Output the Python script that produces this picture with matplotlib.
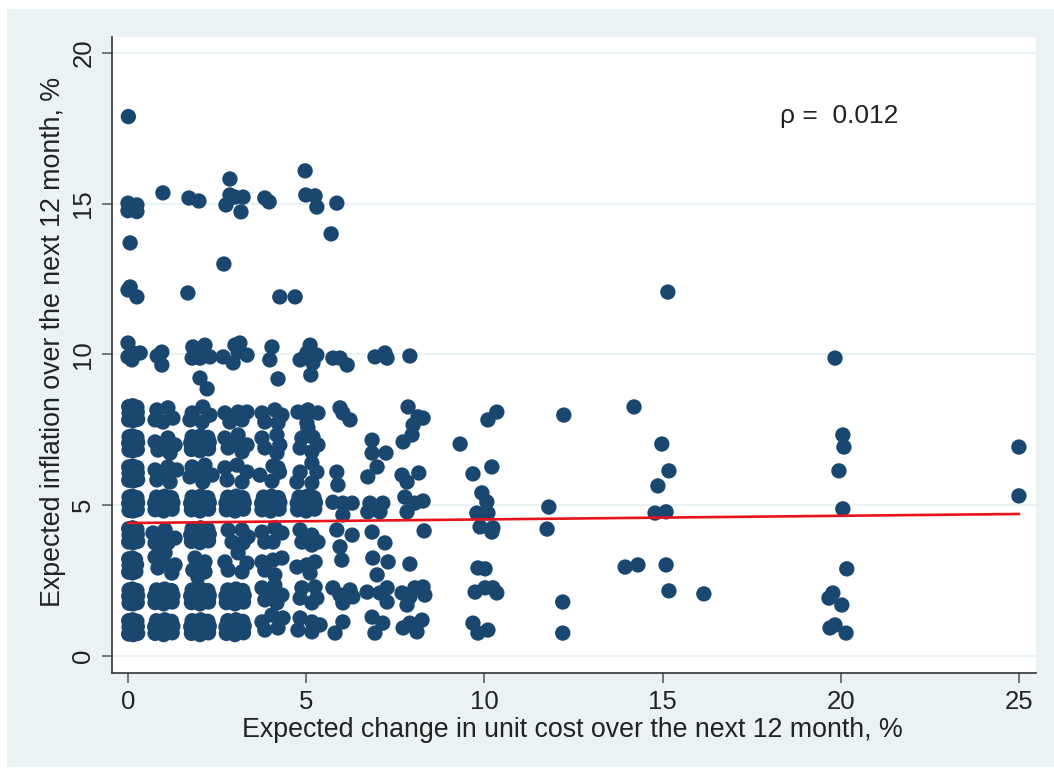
import matplotlib
matplotlib.use("Agg")
import matplotlib.pyplot as plt
from matplotlib.patches import Rectangle

plt.rcParams['font.family'] = ['Liberation Sans', 'DejaVu Sans']

# ---------------- data ----------------
# dense block, column near x=0
col0_x = [0.02,0.15,0.27,0.03,0.14,0.26,0.02,0.13,0.25,
          0.03,0.14,0.26,0.02,0.15,0.27,0.03,0.12,0.25,
          0.02,0.13,0.22,0.03,0.14,0.24,0.02,0.12,0.21,
          0.02,0.15,0.27,0.03,0.14,0.26,0.02,0.13,0.25,
          0.03,0.14,0.26,0.02,0.15,0.27,0.03,0.12,0.25,
          0.02,0.15,0.27,0.03,0.14,0.26,0.02,0.13,0.25,
          0.03,0.14,0.26,0.02,0.15,0.27,0.03,0.12,0.25,
          0.02,0.15,0.27,0.03,0.14,0.26,0.02,0.13,0.25]
col0_y = [0.73,0.71,0.75,0.96,0.94,0.98,1.17,1.20,1.15,
          1.75,1.73,1.77,1.98,1.96,2.00,2.19,2.22,2.17,
          2.78,2.76,2.80,3.01,2.99,3.03,3.22,3.25,3.20,
          3.78,3.76,3.80,4.01,3.99,4.03,4.22,4.25,4.20,
          4.83,4.81,4.85,5.06,5.04,5.08,5.27,5.30,5.25,
          5.83,5.81,5.85,6.06,6.04,6.08,6.27,6.30,6.25,
          6.83,6.81,6.85,7.06,7.04,7.08,7.27,7.30,7.25,
          7.83,7.81,7.85,8.06,8.04,8.08,8.27,8.30,8.25]

# column near x=1
col1_x = [0.76,1.00,1.24,0.75,1.02,1.26,0.80,1.03,1.22,
          0.76,1.00,1.24,0.75,1.02,1.26,0.80,1.03,1.22,
          0.76,1.04,1.32,0.84,1.23,1.00,
          0.70,1.04,1.32,0.76,1.12,1.00,
          0.76,1.00,1.24,0.75,1.02,1.26,0.80,1.03,1.22,
          0.76,1.12,1.37,0.81,1.18,1.00,
          0.76,1.12,1.32,0.84,1.18,1.00,
          0.81,1.12,1.26,0.76,0.98]
col1_y = [0.75,0.71,0.77,0.97,0.95,0.99,1.17,1.20,1.15,
          1.77,1.73,1.79,1.99,1.97,2.01,2.19,2.22,2.17,
          3.28,3.42,3.02,2.92,2.75,3.10,
          4.08,4.18,3.91,3.75,3.75,3.95,
          4.85,4.81,4.87,5.07,5.05,5.09,5.27,5.30,5.25,
          6.17,6.27,6.17,5.84,5.77,6.00,
          7.10,7.23,7.00,6.83,6.73,7.00,
          8.16,8.23,7.89,7.83,7.76]

# column near x=2
col2_x = [1.78,2.02,2.26,1.76,2.03,2.28,1.80,2.04,2.24,
          1.78,2.02,2.26,1.76,2.03,2.28,1.80,2.04,2.24,
          1.88,2.16,1.82,2.16,1.96,2.00,
          1.78,2.02,2.26,1.76,2.03,2.28,1.80,2.04,2.24,
          1.78,2.02,2.26,1.76,2.03,2.28,1.80,2.04,2.24,
          1.80,2.16,2.36,1.74,2.10,2.00,
          1.78,2.02,2.26,1.76,2.03,2.28,1.80,2.04,2.24,
          1.80,2.10,2.30,1.74,2.08]
col2_y = [0.75,0.71,0.77,0.97,0.95,0.99,1.17,1.20,1.15,
          1.77,1.73,1.79,1.99,1.97,2.01,2.19,2.22,2.17,
          3.25,3.12,2.85,2.79,2.62,3.00,
          3.80,3.76,3.82,4.02,4.00,4.04,4.22,4.25,4.20,
          4.85,4.81,4.87,5.07,5.05,5.09,5.27,5.30,5.25,
          6.27,6.33,6.00,5.94,5.77,6.05,
          6.85,6.81,6.87,7.07,7.05,7.09,7.27,7.30,7.25,
          8.06,8.26,7.99,7.83,7.76]

# column near x=3
col3_x = [2.76,3.00,3.24,2.75,3.02,3.26,2.80,3.03,3.22,
          2.76,3.00,3.24,2.75,3.02,3.26,2.80,3.03,3.22,
          2.72,3.09,3.34,2.81,3.20,
          2.81,3.20,3.37,2.92,3.23,
          2.76,3.00,3.24,2.75,3.02,3.26,2.80,3.03,3.22,
          2.72,3.06,3.34,2.78,3.20,
          2.72,3.09,3.34,2.81,3.20,3.00,
          2.72,3.09,3.34,2.86,3.20]
col3_y = [0.75,0.71,0.77,0.97,0.95,0.99,1.17,1.20,1.15,
          1.77,1.73,1.79,1.99,1.97,2.01,2.19,2.22,2.17,
          3.12,3.42,3.08,2.85,2.79,
          4.18,4.18,3.95,3.78,3.75,
          4.85,4.81,4.87,5.07,5.05,5.09,5.27,5.30,5.25,
          6.24,6.33,6.10,5.84,5.77,
          7.23,7.33,7.00,6.90,6.77,7.06,
          8.06,8.09,8.09,7.76,7.83]

# column near x=4
col4_x = [3.76,4.04,4.35,3.84,4.21,
          3.76,4.12,4.32,3.84,4.18,4.00,
          3.76,4.07,4.32,3.84,4.12,
          3.76,4.12,4.32,3.84,4.07,
          3.76,4.00,4.24,3.75,4.02,4.26,3.80,4.03,4.22,
          3.70,4.07,4.21,4.04,4.25,
          3.76,4.18,4.26,3.84,4.18,
          3.76,4.12,4.32,3.84,4.21]
col4_y = [1.13,1.36,1.26,0.86,0.93,
          2.26,2.35,2.02,1.86,1.76,2.05,
          3.12,3.18,3.25,2.85,2.69,
          4.11,4.25,4.08,3.78,3.78,
          4.85,4.81,4.87,5.07,5.05,5.09,5.27,5.30,5.25,
          6.00,6.30,6.24,5.80,6.10,
          7.23,7.33,7.00,6.90,6.73,
          8.06,8.16,7.99,7.76,7.73]

# column near x=5
col5_x = [4.83,5.16,5.39,4.77,5.16,
          4.88,5.25,5.30,4.83,5.16,
          4.74,5.02,5.25,5.11,
          4.83,5.16,5.33,4.88,5.16,
          4.76,5.00,5.24,4.75,5.02,5.26,4.80,5.03,5.22,
          4.83,5.16,5.30,4.74,5.16,
          4.88,5.19,5.33,4.83,5.16,
          4.77,5.05,5.33,5.02,5.05]
col5_y = [1.26,1.13,1.03,0.86,0.80,
          2.26,2.29,1.92,1.92,1.76,
          2.95,3.02,3.12,2.75,
          4.18,4.01,3.78,3.78,3.68,
          4.85,4.81,4.87,5.07,5.05,5.09,5.27,5.30,5.25,
          6.10,6.40,6.10,5.77,5.74,
          7.23,7.26,7.00,6.90,6.77,
          8.09,8.16,8.06,7.73,7.56]

# high inflation answers (y >= 8.8)
high_x = [0.01, 0.00,0.25,0.00,0.25, 0.98, 1.71,1.99, 2.86,
          2.86,3.23,2.75,3.00, 3.17, 3.84,3.96, 4.97,
          4.99,5.25,5.30, 5.86, 5.70, 0.06, 2.69,
          0.00,0.25,0.06, 1.68, 4.26,4.69,
          0.00,0.14,0.34,0.00,0.11, 0.95,0.82,0.95,
          1.82,2.16,1.80,2.02,2.30,1.88, 2.02,2.22,
          2.67,3.00,3.14,3.34,2.95,3.09, 4.04,3.98,4.21,
          5.11,4.83,5.30,5.02,5.19,5.13, 5.75,5.95,6.15,
          6.93,7.21,7.27, 7.91]
high_y = [17.89, 15.02,14.96,14.77,14.74, 15.36, 15.19,15.09, 15.82,
          15.29,15.22,14.96,15.22, 14.73, 15.19,15.06, 16.09,
          15.29,15.26,14.89, 15.02, 14.00, 13.70, 13.00,
          12.14,11.91,12.24, 12.04, 11.91,11.91,
          10.38,10.05,10.05,9.92,9.82, 10.08,9.95,9.65,
          10.25,10.31,9.88,9.88,9.92,10.05, 9.22,8.86,
          9.92,10.31,10.38,9.98,9.72,10.08, 10.25,9.82,9.19,
          10.31,9.82,9.98,10.05,9.72,9.32, 9.88,9.88,9.65,
          9.92,10.05,9.88, 9.95]

# middle columns x = 6 ... 12
mid_x = [5.95,6.03,6.23, 7.86,8.14,8.28,8.00,7.97,7.72, 10.10,10.35, 12.23, 9.32,
         6.85,6.85,7.24, 6.99,6.73, 5.86,5.89, 7.69,7.83,8.16, 9.68,10.21,
         5.75,6.03,6.29,6.03, 6.79,7.15,6.73,7.07, 7.77,8.05,8.28,7.83,
         9.93,10.07,9.79,10.10, 11.81,
         5.86,6.29,5.95, 6.85,7.21, 8.31, 9.88,10.21,10.24, 11.76,
         6.00,6.87,7.30,6.99,7.91,9.82,10.02,
         5.75,5.95,6.23,6.31,6.03, 6.71,7.07,7.27,7.27,
         7.69,7.91,8.05,8.28,8.33,7.83, 9.74,10.02,10.35,10.24, 12.20,
         5.81,6.03,6.85,7.15,6.93, 7.72,7.91,8.11,8.25, 9.68,9.82,10.10, 12.20]
mid_y = [8.23,8.06,7.83, 8.26,7.93,7.89,7.66,7.33,7.10, 7.83,8.09, 7.99, 7.03,
         7.16,6.73,6.73, 6.27,5.94, 6.10,5.67, 6.00,5.77,6.07, 6.04,6.27,
         5.10,5.07,5.07,4.68, 5.07,5.07,4.78,4.78, 5.27,5.07,5.14,4.78,
         5.41,5.11,4.74,4.74, 4.94,
         4.18,4.01,3.62, 4.11,3.75, 4.15, 4.28,4.11,4.25, 4.21,
         3.18,3.25,3.12,2.69,3.05,2.92,2.89,
         2.26,2.02,2.19,1.96,1.76, 2.12,2.09,2.26,1.79,
         2.09,1.96,2.26,2.29,2.02,1.69, 2.12,2.26,2.09,2.26, 1.79,
         0.76,1.13,1.29,1.09,0.76, 0.93,1.09,0.80,1.19, 1.09,0.76,0.86, 0.76]

# right-hand tail x >= 13
tail_x = [15.15, 19.84, 14.20, 14.98, 15.18, 14.87, 14.79, 15.10, 13.95, 14.31,
          15.10, 15.18, 16.16, 20.06, 20.09, 19.95, 20.06, 20.17, 19.78, 19.67,
          20.03, 19.84, 19.70, 20.15, 25.00, 25.00]
tail_y = [12.07, 9.88, 8.26, 7.03, 6.14, 5.64, 4.74, 4.78, 2.95, 3.02,
          3.02, 2.16, 2.06, 7.33, 6.93, 6.14, 4.88, 2.89, 2.09, 1.92,
          1.69, 1.03, 0.93, 0.76, 6.93, 5.31]

# linear fit line end points
fit_x = [0, 25]
fit_y = [4.41, 4.71]

rho_text = "\u03c1 =  0.012"
x_ticks = [0, 5, 10, 15, 20, 25]
y_ticks = [0, 5, 10, 15, 20]
x_title = "Expected change in unit cost over the next 12 month, %"
y_title = "Expected inflation over the next 12 month, %"

# ---------------- drawing ----------------
W, H = 1054, 769
fig = plt.figure(figsize=(W / 100, H / 100), dpi=100, facecolor='white')
bg = '#EAF2F3'
bg_rect = Rectangle((7 / W, 2 / H), (W - 7) / W, (767 - 9) / H,
                    transform=fig.transFigure, facecolor=bg,
                    edgecolor='none', zorder=-10)
fig.add_artist(bg_rect)

ax = fig.add_axes([112 / W, 1 - 673 / H, (1036 - 112) / W, (673 - 37) / H])
ax.set_zorder(1)
ax.set_facecolor('white')
ax.set_xlim(-0.449, 25.48)
ax.set_ylim(-0.564, 20.53)

for yv in y_ticks:
    ax.axhline(yv, color=bg, lw=1.6, zorder=1)

xs = col0_x + col1_x + col2_x + col3_x + col4_x + col5_x + high_x + mid_x + tail_x
ys = col0_y + col1_y + col2_y + col3_y + col4_y + col5_y + high_y + mid_y + tail_y
ax.scatter(xs, ys, s=122, color='#1A476F', edgecolors='none', zorder=3)

ax.plot(fit_x, fit_y, color='#E8131B', lw=1.9, zorder=4)

ax.text(18.3, 17.9, rho_text, fontsize=19, color='#222222', va='center', ha='left')

for s in ['top', 'right']:
    ax.spines[s].set_visible(False)
for s in ['left', 'bottom']:
    ax.spines[s].set_color('#333333')
    ax.spines[s].set_linewidth(1.2)

ax.set_xticks(x_ticks)
ax.set_yticks(y_ticks)
ax.set_xticklabels([str(v) for v in x_ticks])
ax.set_yticklabels([str(v) for v in y_ticks], rotation=90, va='center')
ax.tick_params(axis='both', length=7, width=1.1, color='#555555',
               labelsize=18.5, labelcolor='#222222', direction='out', pad=5)

ax.set_xlabel(x_title, fontsize=19.3, color='#222222')
ax.set_ylabel(y_title, fontsize=19.3, color='#222222')
ax.xaxis.set_label_coords(0.498, -0.09)
ax.yaxis.set_label_coords(-0.064, 0.52)
ax.xaxis.label.set_va('center')
ax.yaxis.label.set_va('center')

fig.savefig('out.png', dpi=100, facecolor='white')
